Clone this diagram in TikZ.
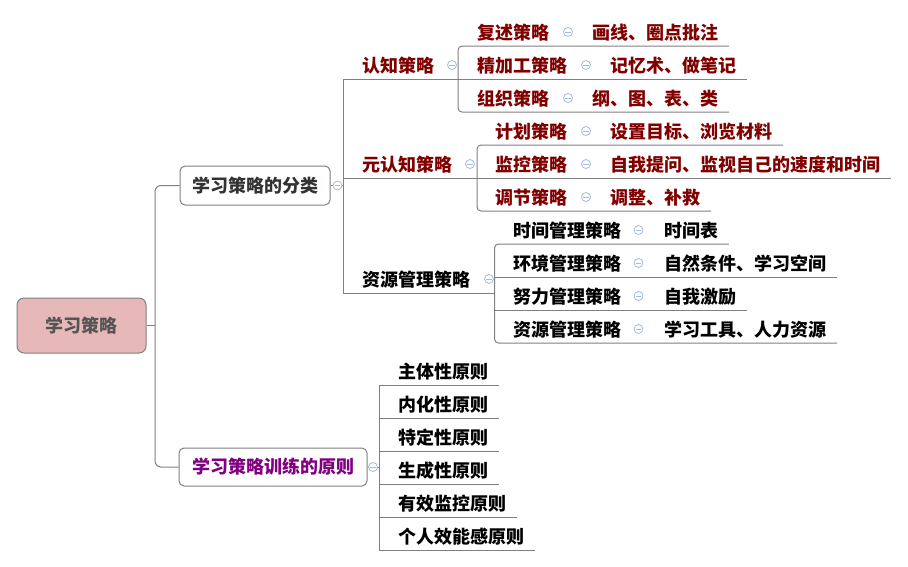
\documentclass[tikz,border=0pt]{standalone}
\usepackage{fontspec}
\setmainfont{Noto Sans CJK SC}
\definecolor{lnc}{RGB}{128,128,128}
\definecolor{dred}{RGB}{128,0,0}
\definecolor{purp}{RGB}{128,0,128}
\definecolor{rootfill}{RGB}{230,184,183}
\definecolor{rootfg}{RGB}{85,85,85}
\definecolor{dgray}{RGB}{51,51,51}
\definecolor{icon}{RGB}{165,185,225}
\tikzset{
  conn/.style={draw=lnc, line width=1pt},
  lbl/.style={anchor=base west, inner sep=0pt, font=\fontsize{18}{21}\selectfont\bfseries},
  box/.style={draw=lnc, line width=1pt, rounded corners=5pt, fill=white, inner sep=0pt,
    font=\fontsize{18}{21}\selectfont\bfseries},
  tog/.style={circle, draw=icon, fill=white, line width=0.8pt, minimum size=9pt, inner sep=0pt,
    path picture={\draw[icon, line width=0.8pt]
      ([xshift=-2.6pt]path picture bounding box.center) -- ([xshift=2.6pt]path picture bounding box.center);}},
}
\begin{document}
\begin{tikzpicture}[x=1pt,y=-1pt]
\useasboundingbox (0,0) rectangle (908,566);

% main boxes
\node[box, fill=rootfill, text=rootfg, minimum width=129pt, minimum height=55pt, rounded corners=7pt] (root) at (81.5,325.5) {学习策略};
\node[box, text=dgray, minimum width=150pt, minimum height=39pt] (cls) at (255,185.5) {学习策略的分类};
\node[box, text=purp, minimum width=188pt, minimum height=38pt] (prin) at (273,467) {学习策略训练的原则};

% root connectors
\coordinate (rj) at (155,325.5);
\coordinate (rjt) at (155,185.5);
\coordinate (rjb) at (155,467);
\draw[conn] (root.east) -- (rj);
\draw[conn, rounded corners=6pt] (cls.west) -- (rjt) -- (rjb) -- (prin.west);

% classification trunk
\coordinate (b0) at (343,185.5);
\coordinate (b0t) at (343,79);
\coordinate (b0b) at (343,293.5);
\draw[conn] (cls.east) -- (b0);
\draw[conn] (b0t) -- (b0b);

% ---- cognitive strategies
\node[lbl, text=dred] (c1) at (362,72) {认知策略};
\node[lbl, text=dred] (c11) at (477,39) {复述策略};
\node[lbl, text=dred] (c12) at (477,72) {精加工策略};
\node[lbl, text=dred] (c13) at (477,105) {组织策略};
\node[lbl, text=dred] (c111) at (592,39) {画线、圈点批注};
\node[lbl, text=dred] (c121) at (610,72) {记忆术、做笔记};
\node[lbl, text=dred] (c131) at (592,105) {纲、图、表、类};
\coordinate (c1e) at (747,79);
\coordinate (c11a) at (458,46); \coordinate (c11e) at (729,46);
\coordinate (c13a) at (458,112); \coordinate (c13e) at (729,112);
\draw[conn] (b0t) -- (c1e);
\draw[conn, rounded corners=4pt] (c11e) -- (c11a) -- (c13a) -- (c13e);

% ---- metacognitive strategies
\node[lbl, text=dred] (m1) at (362,171) {元认知策略};
\node[lbl, text=dred] (m11) at (495,138) {计划策略};
\node[lbl, text=dred] (m12) at (495,171) {监控策略};
\node[lbl, text=dred] (m13) at (495,204) {调节策略};
\node[lbl, text=dred] (m111) at (610,138) {设置目标、浏览材料};
\node[lbl, text=dred] (m121) at (610,171) {自我提问、监视自己的速度和时间};
\node[lbl, text=dred] (m131) at (610,204) {调整、补救};
\coordinate (m1s) at (343,178); \coordinate (m1e) at (891,178);
\coordinate (m11a) at (477,145); \coordinate (m11e) at (783,145);
\coordinate (m13a) at (477,211); \coordinate (m13e) at (711,211);
\draw[conn] (m1s) -- (m1e);
\draw[conn, rounded corners=4pt] (m11e) -- (m11a) -- (m13a) -- (m13e);

% ---- resource management strategies
\node[lbl] (r1) at (362,286.5) {资源管理策略};
\node[lbl] (r11) at (513,237) {时间管理策略};
\node[lbl] (r12) at (513,270) {环境管理策略};
\node[lbl] (r13) at (513,303) {努力管理策略};
\node[lbl] (r14) at (513,336) {资源管理策略};
\node[lbl] (r111) at (664,237) {时间表};
\node[lbl] (r121) at (664,270) {自然条件、学习空间};
\node[lbl] (r131) at (664,303) {自我激励};
\node[lbl] (r141) at (664,336) {学习工具、人力资源};
\coordinate (r1e) at (494.5,293.5);
\coordinate (r11a) at (494.5,244); \coordinate (r11e) at (729,244);
\coordinate (r12a) at (494.5,277); \coordinate (r12e) at (837,277);
\coordinate (r13a) at (494.5,310); \coordinate (r13e) at (747,310);
\coordinate (r14a) at (494.5,343); \coordinate (r14e) at (837,343);
\draw[conn] (b0b) -- (r1e);
\draw[conn, rounded corners=4pt] (r11e) -- (r11a) -- (r14a) -- (r14e);
\draw[conn] (r12a) -- (r12e);
\draw[conn] (r13a) -- (r13e);

% ---- principles
\node[lbl] (p1) at (398,378) {主体性原则};
\node[lbl] (p2) at (398,411) {内化性原则};
\node[lbl] (p3) at (398,444) {特定性原则};
\node[lbl] (p4) at (398,477) {生成性原则};
\node[lbl] (p5) at (398,510) {有效监控原则};
\node[lbl] (p6) at (398,543) {个人效能感原则};
\coordinate (pj) at (379,467);
\coordinate (p1a) at (379,385); \coordinate (p1e) at (499,385);
\coordinate (p2a) at (379,418); \coordinate (p2e) at (499,418);
\coordinate (p3a) at (379,451); \coordinate (p3e) at (499,451);
\coordinate (p4a) at (379,484); \coordinate (p4e) at (499,484);
\coordinate (p5a) at (379,517); \coordinate (p5e) at (517,517);
\coordinate (p6a) at (379,550); \coordinate (p6e) at (535,550);
\draw[conn] (prin.east) -- (pj);
\draw[conn] (p1e) -- (p1a) -- (p6a) -- (p6e);
\draw[conn] (p2a) -- (p2e);
\draw[conn] (p3a) -- (p3e);
\draw[conn] (p4a) -- (p4e);
\draw[conn] (p5a) -- (p5e);

% ---- collapse toggles
\node[tog] (t0) at (337.5,185.5) {};
\node[tog] (tp) at (373,467) {};
\node[tog] (tc1) at (452,65) {};
\node[tog] (tc11) at (568,32) {};
\node[tog] (tc12) at (586,65) {};
\node[tog] (tc13) at (568,98) {};
\node[tog] (tm1) at (470,164) {};
\node[tog] (tm11) at (586,131) {};
\node[tog] (tm12) at (586,164) {};
\node[tog] (tm13) at (586,197) {};
\node[tog] (tr1) at (489,279) {};
\node[tog] (tr11) at (638.5,230) {};
\node[tog] (tr12) at (638.5,263) {};
\node[tog] (tr13) at (638.5,296) {};
\node[tog] (tr14) at (638.5,329) {};
\end{tikzpicture}
\end{document}
